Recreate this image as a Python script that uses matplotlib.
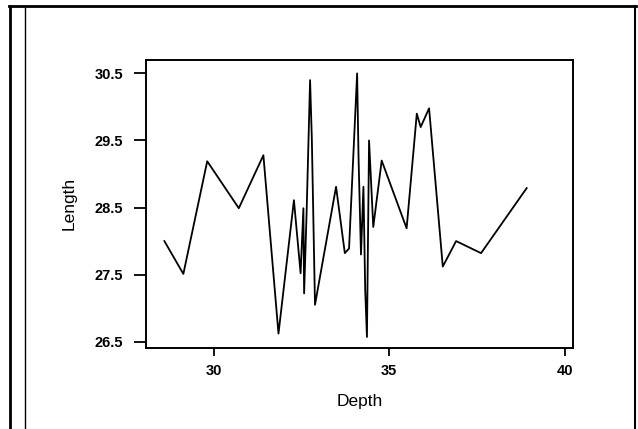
import matplotlib
matplotlib.use("Agg")
import matplotlib.pyplot as plt
from matplotlib.lines import Line2D

# Depth vs Length readings
depth = [28.6, 29.14, 29.82, 30.72, 31.42, 31.85, 32.29, 32.48, 32.56, 32.58,
         32.65, 32.75, 32.8, 32.89, 33.49, 33.74, 33.86, 34.09, 34.13, 34.2,
         34.27, 34.32, 34.37, 34.43, 34.55, 34.79, 35.5, 35.79, 35.9, 36.14,
         36.53, 36.91, 37.62, 38.92]
length = [28.0, 27.51, 29.19, 28.49, 29.28, 26.62, 28.61, 27.52, 28.49, 27.22,
          28.4, 30.4, 29.53, 27.05, 28.81, 27.82, 27.89, 30.5, 29.26, 27.8,
          28.81, 27.27, 26.57, 29.5, 28.21, 29.2, 28.19, 29.9, 29.7, 29.98,
          27.62, 28.0, 27.82, 28.79]

xticks = [30, 35, 40]
yticks = [26.5, 27.5, 28.5, 29.5, 30.5]

plt.rcParams['font.family'] = ['Liberation Sans', 'DejaVu Sans']

fig = plt.figure(figsize=(6.38, 4.29), dpi=100)
ax = fig.add_axes([0.2296, 0.1895, 0.668, 0.6706])

ax.plot(depth, length, color='black', linewidth=1.3)

ax.set_xlim(28.09, 40.23)
ax.set_ylim(26.41, 30.70)
ax.set_xticks(xticks)
ax.set_yticks(yticks)
ax.set_xticklabels([str(t) for t in xticks], fontsize=10.5, fontweight='bold')
ax.set_yticklabels([str(t) for t in yticks], fontsize=10.5, fontweight='bold')
ax.tick_params(axis='x', direction='out', length=6, width=1.3, pad=6)
ax.tick_params(axis='y', direction='out', length=9, width=1.3, pad=8)
for s in ax.spines.values():
    s.set_linewidth(1.4)

ax.set_xlabel('Depth', fontsize=12.5, labelpad=11)
ax.set_ylabel('Length', fontsize=12.5, labelpad=13)

# scanned page frame
fig.add_artist(Line2D([9 / 638, 636 / 638], [1 - 6 / 429, 1 - 6 / 429], color='black', linewidth=2))
fig.add_artist(Line2D([10 / 638, 10 / 638], [0, 1 - 6 / 429], color='black', linewidth=2))
fig.add_artist(Line2D([24.5 / 638, 24.5 / 638], [0, 1 - 8 / 429], color='black', linewidth=1))
fig.add_artist(Line2D([635 / 638, 635 / 638], [0, 1 - 6 / 429], color='black', linewidth=1.5))

fig.savefig('out.png', dpi=100)
